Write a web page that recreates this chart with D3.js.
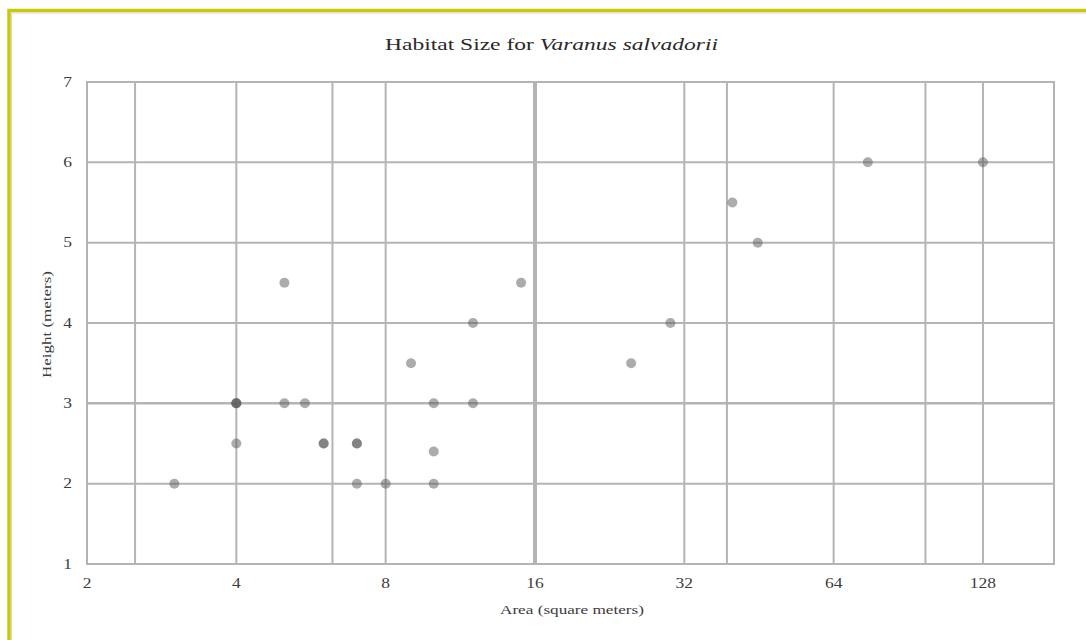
<!DOCTYPE html>
<html>
<head>
<meta charset="utf-8">
<script src="https://cdn.jsdelivr.net/npm/d3@7"></script>
<style>
  body { margin: 0; background: #fff; }
</style>
</head>
<body>
<svg id="viz"></svg>
<script>
const width = 1086, height = 640;
const serif = "'Liberation Serif', 'Times New Roman', 'DejaVu Serif', serif";

// area (m^2) and height (m) of each enclosure; repeated rows overlap in the picture
const areas   = [3, 4, 4, 4, 4, 5, 5, 5.5, 6, 6, 7, 7, 7, 8, 9, 10, 10, 10, 12, 12, 15, 25, 30, 40, 45, 75, 128];
const heights = [2, 3, 3, 3, 2.5, 4.5, 3, 3, 2.5, 2.5, 2.5, 2.5, 2, 2, 3.5, 3, 2.4, 2, 4, 3, 4.5, 3.5, 4, 5.5, 5, 6, 6];

const xTicks = [2, 4, 8, 16, 32, 64, 128];
const xGrid = [2.5, 4, 6.25, 8, 16, 32, 39, 64, 98, 128];
const yTicks = [1, 2, 3, 4, 5, 6, 7];

const svg = d3.select("#viz")
  .attr("width", width)
  .attr("height", height);

// yellow frame of the page
svg.append("rect")
  .attr("x", 9).attr("y", 10.5)
  .attr("width", width + 20).attr("height", height + 20)
  .attr("fill", "none")
  .attr("stroke", "#c9c90c")
  .attr("stroke-width", 3.5);
svg.append("rect")
  .attr("x", 11.5).attr("y", 13)
  .attr("width", width + 20).attr("height", height + 20)
  .attr("fill", "none")
  .attr("stroke", "#d8d8d8")
  .attr("stroke-width", 1);

const x = d3.scaleLog().base(2)
  .domain([2, 178])
  .range([87, 1054]);

const y = d3.scaleLinear()
  .domain([1, 7])
  .range([564, 82]);

const grid = svg.append("g");

grid.selectAll("line.h")
  .data(yTicks)
  .enter()
    .append("line")
    .attr("x1", x.range()[0]).attr("x2", x.range()[1])
    .attr("y1", d => y(d)).attr("y2", d => y(d))
    .attr("stroke", "#b4b4b4")
    .attr("stroke-width", d => d === 3 ? 2.5 : 2);

grid.selectAll("line.v")
  .data(xGrid)
  .enter()
    .append("line")
    .attr("x1", d => x(d)).attr("x2", d => x(d))
    .attr("y1", y(7)).attr("y2", y(1))
    .attr("stroke", "#b4b4b4")
    .attr("stroke-width", d => d === 16 ? 4 : 2);

// plot frame
svg.append("rect")
  .attr("x", x.range()[0]).attr("y", y(7))
  .attr("width", x.range()[1] - x.range()[0])
  .attr("height", y(1) - y(7))
  .attr("fill", "none")
  .attr("stroke", "#b4b4b4")
  .attr("stroke-width", 2);

const pts = areas.map((a, i) => ({area: a, h: heights[i]}));

svg.append("g").selectAll("circle")
  .data(pts)
  .enter()
    .append("circle")
    .attr("cx", d => x(d.area))
    .attr("cy", d => y(d.h))
    .attr("r", 5)
    .attr("fill", "#5a5a5a")
    .attr("fill-opacity", 0.5);

// tick labels are stretched sideways in the original scan
svg.append("g")
  .selectAll("text")
  .data(xTicks)
  .enter()
    .append("text")
    .attr("transform", d => "translate(" + x(d) + "," + (y(1) + 24) + ") scale(1.25,1)")
    .attr("text-anchor", "middle")
    .attr("font-family", serif)
    .attr("font-size", 14)
    .attr("fill", "#3c3c3c")
    .text(d => d);

svg.append("g")
  .selectAll("text")
  .data(yTicks)
  .enter()
    .append("text")
    .attr("transform", d => "translate(" + (x.range()[0] - 15) + "," + (y(d) + 4.5) + ") scale(1.25,1)")
    .attr("text-anchor", "end")
    .attr("font-family", serif)
    .attr("font-size", 14)
    .attr("fill", "#3c3c3c")
    .text(d => d);

const title = svg.append("text")
  .attr("x", 385).attr("y", 50)
  .attr("font-family", serif)
  .attr("font-size", 17)
  .attr("fill", "#2a2a2a")
  .attr("textLength", 333)
  .attr("lengthAdjust", "spacingAndGlyphs");
title.append("tspan").text("Habitat Size for ");
title.append("tspan").attr("font-style", "italic").text("Varanus salvadorii");

svg.append("text")
  .attr("x", 500).attr("y", 614)
  .attr("font-family", serif)
  .attr("font-size", 13)
  .attr("fill", "#3c3c3c")
  .attr("textLength", 144)
  .attr("lengthAdjust", "spacingAndGlyphs")
  .text("Area (square meters)");

svg.append("text")
  .attr("transform", "translate(51,378) rotate(-90)")
  .attr("font-family", serif)
  .attr("font-size", 13)
  .attr("fill", "#3c3c3c")
  .attr("textLength", 107)
  .attr("lengthAdjust", "spacingAndGlyphs")
  .text("Height (meters)");
</script>
</body>
</html>
